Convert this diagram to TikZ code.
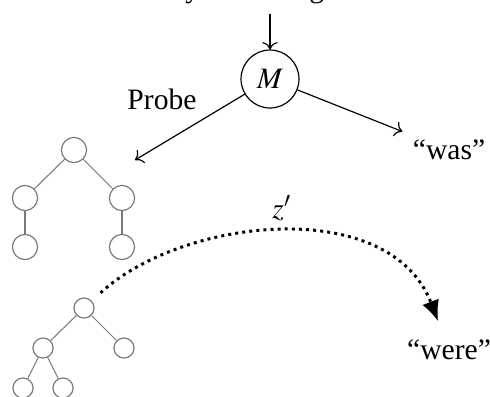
\documentclass[tikz,border=0pt]{standalone}
\usepackage{mathptmx}
\usepackage{fontspec}
\setmainfont{Liberation Serif}
\definecolor{treegray}{RGB}{120,120,120}
\usetikzlibrary{arrows.meta,positioning}
\tikzset{
  tnode/.style={circle, draw=treegray, minimum size=8.5pt, inner sep=0pt},
  tnodesm/.style={circle, draw=treegray, minimum size=6.8pt, inner sep=0pt},
  tedge/.style={treegray, line width=0.35pt},
  cfarrow/.style={line width=1pt, dash pattern=on 1pt off 1.4pt,
                  -{Latex[length=7pt,width=6pt]}},
}

\begin{document}
\begin{tikzpicture}[x=0.338pt, y=-0.338pt]
\useasboundingbox (0,0) rectangle (490,396);

% --- Model and its outputs ---
\node[anchor=base west] (sent) at (92,-3) {The boy near the girls on the};
\node[circle, draw, minimum size=19.6pt, inner sep=0pt] (m) at (270,79) {$M$};
\draw[->] (sent.south -| m.north) -- (m);

\node (probe) at (162,99) {Probe};
\coordinate (probeend) at (135,160);
\draw[->] (m) -- (probeend);

\node (was) at (449,150) {“was”};
\draw[->] (m) -- (was);

% --- Parse tree read by the probe ---
\node[tnode] (a1) at (74,150) {};
\node[tnode] (a2) at (25,198) {};
\node[tnode] (a3) at (122,198) {};
\node[tnode] (a4) at (25,247) {};
\node[tnode] (a5) at (122,247) {};
\draw[tedge] (a1) -- (a2);
\draw[tedge] (a1) -- (a3);
\draw[tedge] (a2) -- (a4);
\draw[tedge] (a3) -- (a5);

% --- Counterfactual tree ---
\node[tnodesm] (b1) at (84,308) {};
\node[tnodesm] (b2) at (43,348) {};
\node[tnodesm] (b3) at (124,348) {};
\node[tnodesm] (b4) at (23,388) {};
\node[tnodesm] (b5) at (63,388) {};
\draw[tedge] (b1) -- (b2);
\draw[tedge] (b1) -- (b3);
\draw[tedge] (b2) -- (b4);
\draw[tedge] (b2) -- (b5);

% Intervention
\node (were) at (449,350) {“were”};
\draw[cfarrow, shorten <=4pt, shorten >=3pt]
  (b1) .. controls (183,217) and (390,195) .. (were);
\node (zp) at (282,208) {$z'$};

\end{tikzpicture}
\end{document}
